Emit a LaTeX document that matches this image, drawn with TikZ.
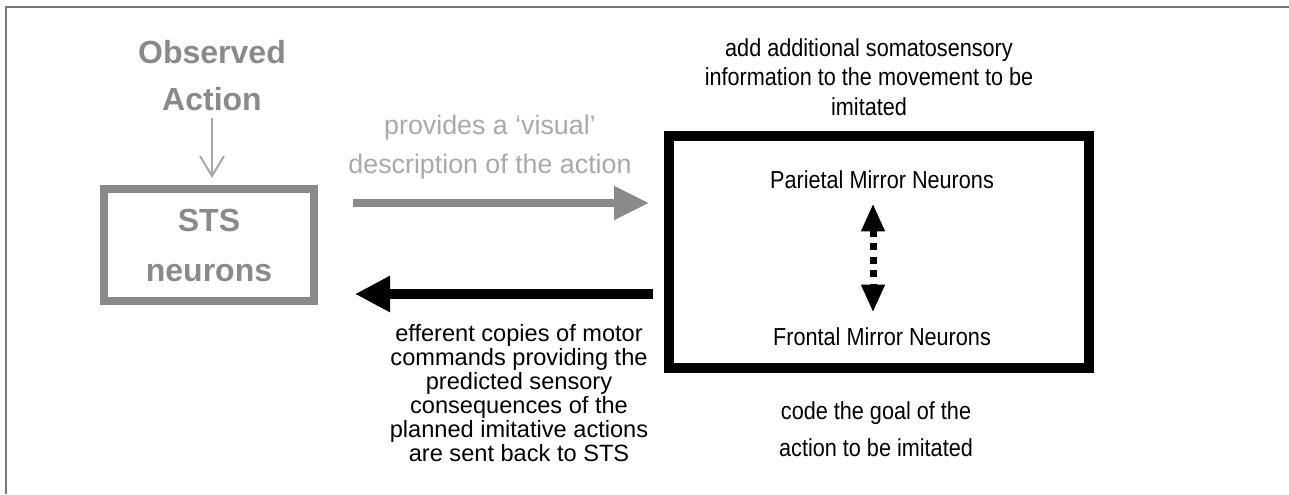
\documentclass[tikz,border=0pt]{standalone}
\usepackage{fontspec}
\setmainfont{Liberation Sans}
\newfontfamily\narrowsans{Liberation Sans}[FakeStretch=0.88]
\usetikzlibrary{positioning,arrows.meta}
\definecolor{ink}    {HTML}{000000}
\definecolor{stone}  {HTML}{8A8A8A}
\definecolor{haze}   {HTML}{A9A9A9}
\definecolor{rim}    {HTML}{7A7A7A}
\tikzset{
  % --- nodes
  stage/.style  = {draw=stone, line width=4pt, minimum width=105pt, minimum height=56pt,
                   inner sep=0pt, align=center, text=stone,
                   font=\fontsize{16}{25}\selectfont\bfseries},
  mirror/.style = {draw=ink, line width=5pt, minimum width=210pt, minimum height=116pt,
                   inner sep=0pt},
  head/.style   = {align=center, text=stone, font=\fontsize{16}{23.5}\selectfont\bfseries},
  hint/.style   = {align=center, text=haze, font=\fontsize{13.4}{19.5}\selectfont},
  area/.style   = {inner sep=0pt, font=\narrowsans\fontsize{12.3}{13}\selectfont},
  note/.style   = {align=center, font=\narrowsans\fontsize{12.3}{14.75}\selectfont},
  goal/.style   = {note, font=\narrowsans\fontsize{12.3}{18.5}\selectfont},
  copy/.style   = {align=center, font=\fontsize{11.8}{12}\selectfont},
  % --- edges
  rimline/.style = {draw=rim, line width=0.75pt},
  obs/.style    = {-{Straight Barb[length=10pt,width=12pt]}, line width=1pt, draw=haze},
  fwd/.style    = {-{Triangle[length=17.5pt,width=16pt]}, line width=4pt, draw=stone},
  back/.style   = {-{Triangle[length=17.5pt,width=17pt]}, line width=5pt, draw=ink},
  link/.style   = {{Triangle[length=14pt,width=11pt]}-{Triangle[length=14pt,width=11pt]},
                   line width=3.5pt, dash pattern=on 3.5pt off 3.25pt, draw=ink},
}

\begin{document}
\begin{tikzpicture}[x=0.5pt,y=0.5pt]
  \useasboundingbox (0,0) rectangle (1289,494);
  \draw[rimline] (6,0) -- (6,487) -- (1289,487);

  \node[head]  (observed) at (212,418) {Observed\\Action};
  \node[stage] (sts)      at (209,249) {STS\\neurons};

  \node[mirror] (mirror)  at (879,242) {};
  \node[area]  (parietal) at (882,314) {Parietal Mirror Neurons};
  \node[area]  (frontal)  at (882,157) {Frontal Mirror Neurons};

  \node[note]  (somato)   at (869,417)
    {add additional somatosensory\\information to the movement to be\\imitated};
  \node[goal]  (goal)     at (876,64.5) {code the goal of the\\action to be imitated};
  \node[hint]  (visual)   at (490,346.5) {provides a ‘visual’\\description of the action};
  \node[copy]  (efferent) at (519,101)
    {efferent copies of motor\\commands providing the\\predicted sensory\\consequences of the\\planned imitative actions\\are sent back to STS};

  \draw[obs] (observed.south) -- ([yshift=3.5pt]observed.south |- sts.north);
  \draw[fwd, shorten <=17.5pt, shorten >=7.5pt] (sts.east |- 0,291) -- (mirror.west |- 0,291);
  \draw[back, shorten <=5.5pt, shorten >=18.5pt] (mirror.west |- 0,200) -- (sts.east |- 0,200);
  \draw[link, shorten <=7pt, shorten >=7.5pt]
    ([xshift=-4.5pt]parietal.south) -- ([xshift=-4.5pt]frontal.north);
\end{tikzpicture}
\end{document}
